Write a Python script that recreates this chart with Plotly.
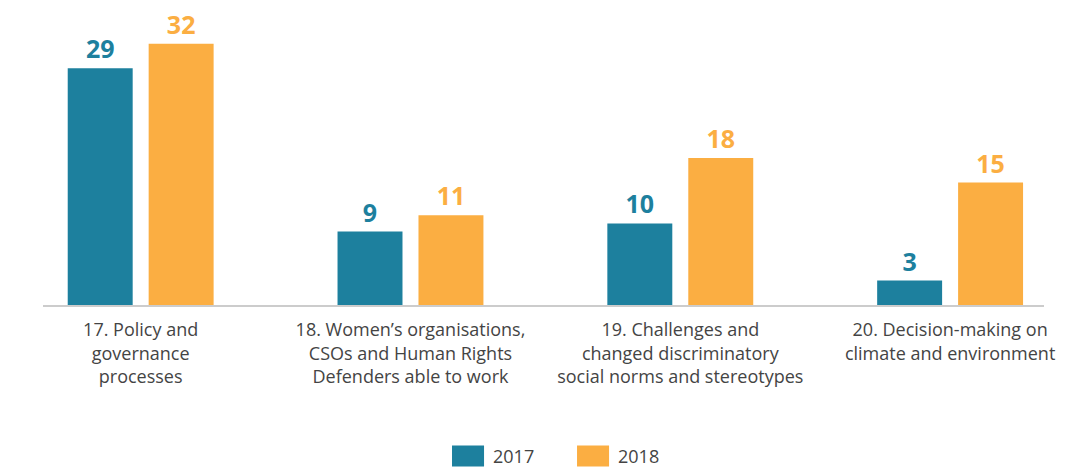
import plotly.graph_objects as go

# data
categories = [
    "17. Policy and<br>governance<br>processes",
    "18. Women’s organisations,<br>CSOs and Human Rights<br>Defenders able to work",
    "19. Challenges and<br>changed discriminatory<br>social norms and stereotypes",
    "20. Decision-making on<br>climate and environment",
]
values_2017 = [29, 9, 10, 3]
values_2018 = [32, 11, 18, 15]
series_names = ["2017", "2018"]

TEAL = "#1d809e"
ORANGE = "#fbae42"
TEXT = "#444444"
FONT = "Open Sans"

fig = go.Figure()

for name, vals, color in [(series_names[0], values_2017, TEAL),
                          (series_names[1], values_2018, ORANGE)]:
    fig.add_trace(go.Bar(
        x=categories,
        y=vals,
        name=name,
        marker=dict(color=color, line=dict(width=0)),
        text=vals,
        textposition="outside",
        textfont=dict(family=FONT, size=25, color=color, weight="bold"),
        cliponaxis=False,
        showlegend=False,
        hoverinfo="skip",
    ))

# custom legend (large swatches like the original)
legend_items = [(series_names[0], TEAL, 0.4086), (series_names[1], ORANGE, 0.5335)]
for name, color, x0 in legend_items:
    fig.add_shape(type="rect", xref="paper", yref="paper",
                  x0=x0, x1=x0 + 0.032, y0=-0.5475, y1=-0.4763,
                  fillcolor=color, line=dict(width=0))
    fig.add_annotation(x=x0 + 0.039, y=-0.513, xref="paper", yref="paper",
                       text=name, showarrow=False, xanchor="left", yanchor="middle",
                       font=dict(family=FONT, size=18, color=TEXT))

fig.update_layout(
    width=1071, height=468,
    margin=dict(l=43, r=27, t=10, b=163),
    barmode="group",
    bargap=0.4,
    bargroupgap=0.1975,
    plot_bgcolor="white",
    paper_bgcolor="white",
    font=dict(family=FONT, color=TEXT),
)
fig.update_xaxes(
    range=[-0.362, 3.348],
    showline=True, linecolor="#cccccc", linewidth=1.5,
    ticks="", showgrid=False,
    tickfont=dict(family=FONT, size=18, color=TEXT),
    ticklabelstandoff=8,
)
fig.update_yaxes(range=[0, 36.15], visible=False, showgrid=False)

# page body has a default 8px margin; remove it so the chart sits at the top-left
fig.write_html("out.html", config={"displayModeBar": False},
               post_script="document.body.style.margin='0';")
